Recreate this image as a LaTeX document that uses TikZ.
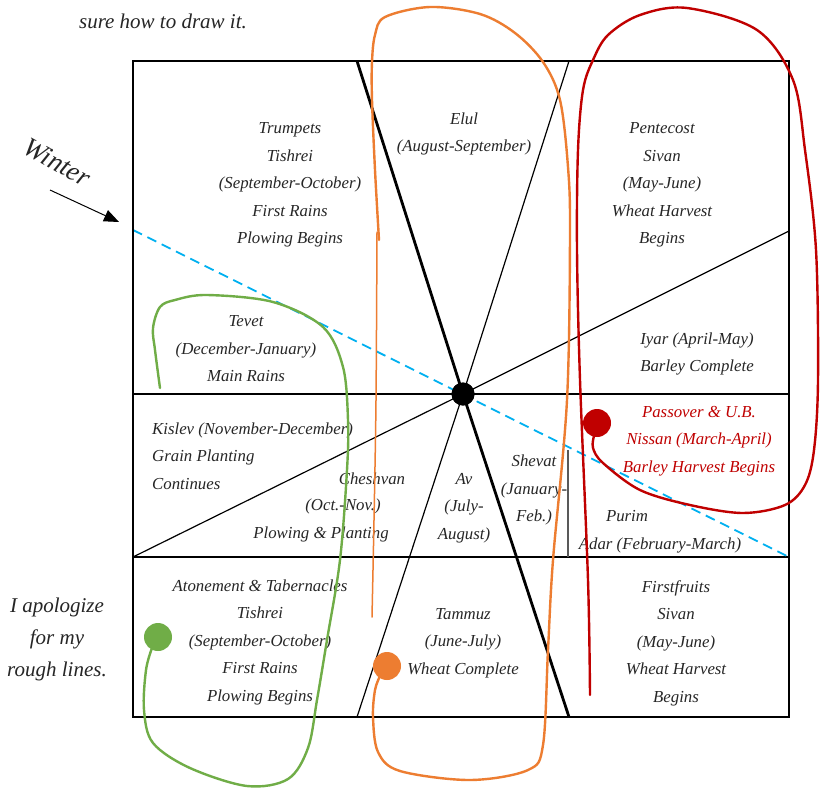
\documentclass[tikz,border=0pt]{standalone}
\usepackage{fontspec}
\setmainfont{Liberation Serif}
\usetikzlibrary{arrows.meta}
\definecolor{orng}{HTML}{ED7D31}
\definecolor{grn}{HTML}{70AD47}
\definecolor{rd}{HTML}{C00000}
\definecolor{blu}{HTML}{00B0F0}
\definecolor{ink}{HTML}{262626}
\begin{document}
\begin{tikzpicture}[x=1pt,y=-1pt,
  txt/.style={font=\itshape\fontsize{16.8}{27.5}\selectfont, align=center, inner sep=0pt, text=ink},
  side/.style={font=\itshape\fontsize{21}{32}\selectfont, align=center, inner sep=0pt, text=ink},
  frame/.style={line width=2.7pt},
  thinline/.style={line width=1.2pt},
  heavy/.style={line width=2.8pt},
  pen/.style={line width=2.4pt, line cap=round, line join=round},
  dot/.style={circle, inner sep=0pt, minimum size=28pt}]
\useasboundingbox (0,0) rectangle (821,787);
\fill[white] (0,0) rectangle (821,787);
% frame coordinates
\coordinate (tl) at (133,61);
\coordinate (tr) at (789,61);
\coordinate (bl) at (133,717);
\coordinate (br) at (789,717);
\coordinate (ml) at (133,394);
\coordinate (mr) at (789,394);
\coordinate (ll) at (133,557);
\coordinate (lr) at (789,557);
\coordinate (thk1) at (357,61);
\coordinate (thk2) at (569,717);
\coordinate (thn1) at (569,61);
\coordinate (thn2) at (357,717);
\coordinate (rr) at (789,231);
\coordinate (bl1) at (133,230);
\coordinate (bl2) at (789,557);
\coordinate (g1) at (568,450);
\coordinate (g2) at (568,557);
\node[circle, fill=black, inner sep=0pt, minimum size=23pt] (hub) at (463,394) {};
% lines
\draw[thinline] (ml) -- (mr);
\draw[thinline] (ll) -- (lr);
\draw[thinline] (thn1) -- (hub.center) -- (thn2);
\draw[thinline] (rr) -- (hub.center) -- (ll);
\draw[heavy] (thk1) -- (hub.center) -- (thk2);
\draw[line width=1.3pt, black!65] (g1) -- (g2);
\draw[blu, line width=1.8pt, dash pattern=on 10pt off 6pt] (bl1) -- (bl2);
\draw[frame] (tl) rectangle (br);
\node[circle, fill=black, inner sep=0pt, minimum size=23pt] at (hub) {};
% texts
\node[txt] (trumpets) at (290,185) {Trumpets\\Tishrei\\(September-October)\\First Rains\\Plowing Begins};
\node[txt] (elul) at (464,134) {Elul\\(August-September)};
\node[txt] (pentecost) at (662,185) {Pentecost\\Sivan\\(May-June)\\Wheat Harvest\\Begins};
\node[txt] (tevet) at (246,349) {Tevet\\(December-January)\\Main Rains};
\node[txt] (iyar) at (697,354) {Iyar (April-May)\\Barley Complete};
\node[txt, align=left, anchor=west] (kislev) at (152,456) {Kislev (November-December)\\Grain Planting\\Continues};
\node[txt] (chesh1) at (372,479) {Cheshvan};
\node[txt] (chesh2) at (343,506) {(Oct.-Nov.)};
\node[txt] (chesh3) at (321,534) {Plowing \& Planting};
\node[txt] (av) at (464,508) {Av\\(July-\\August)};
\node[txt] (shevat) at (534,490) {Shevat\\(January-\\Feb.)};
\node[txt, text=rd] (passover) at (699,441) {Passover \& U.B.\\Nissan (March-April)\\Barley Harvest Begins};
\node[txt] (purim) at (627,516) {Purim};
\node[txt] (adar) at (660,545) {Adar (February-March)};
\node[txt] (atonement) at (260,642) {Atonement \& Tabernacles\\Tishrei\\(September-October)\\First Rains\\Plowing Begins};
\node[txt] (tammuz) at (463,643) {Tammuz\\(June-July)\\Wheat Complete};
\node[txt] (firstfruits) at (676,643) {Firstfruits\\Sivan\\(May-June)\\Wheat Harvest\\Begins};
\node[side] (sure) at (163,21) {sure how to draw it.};
\node[side] (apol) at (57,639) {I apologize\\for my\\rough lines.};
\node[side, font=\itshape\fontsize{27}{30}\selectfont, rotate=-29] (winter) at (57,162) {Winter};
\coordinate (wa) at (50,190);
\coordinate (wb) at (119,222);
\draw[line width=1pt, -{Triangle[length=15pt,width=12pt]}] (wa) -- (wb);
% hand-drawn loops
\draw[pen, orng] plot[smooth, tension=0.55] coordinates {(379,240) (375,170) (372,100) (372,62) (375,35) (385,17) (430,7) (480,14) (515,33) (543,62) (560,100) (568,167) (570,233) (567,400) (553,560) (548,650) (543,745) (528,770) (470,780) (400,771) (378,752) (373,717) (375,690) (380,676)};
\draw[orng, line width=1.5pt, line cap=round] plot[smooth] coordinates {(377,232) (376,400) (374,520) (372,617)};
\node[dot, fill=orng] (odot) at (387,666) {};
\draw[pen, grn] plot[smooth, tension=0.55] coordinates {(160,388) (155,350) (153,328) (160,307) (175,300) (207,295) (273,302) (323,327) (343,367) (348,420) (347,470) (340,560) (327,640) (317,700) (308,748) (288,779) (247,786) (190,768) (153,743) (144,710) (146,670) (152,648)};
\node[dot, fill=grn] (gdot) at (158,637) {};
\draw[pen, rd] plot[smooth, tension=0.55] coordinates {(590,695) (588,580) (580,380) (577,250) (578,150) (583,90) (593,60) (608,35) (640,15) (687,8) (757,30) (793,80) (805,150) (816,250) (818,380) (814,450) (805,485) (785,505) (743,513) (690,505) (640,490) (603,463) (593,448) (594,436)};
\node[dot, fill=rd] (rdot) at (597,423) {};
\end{tikzpicture}
\end{document}
